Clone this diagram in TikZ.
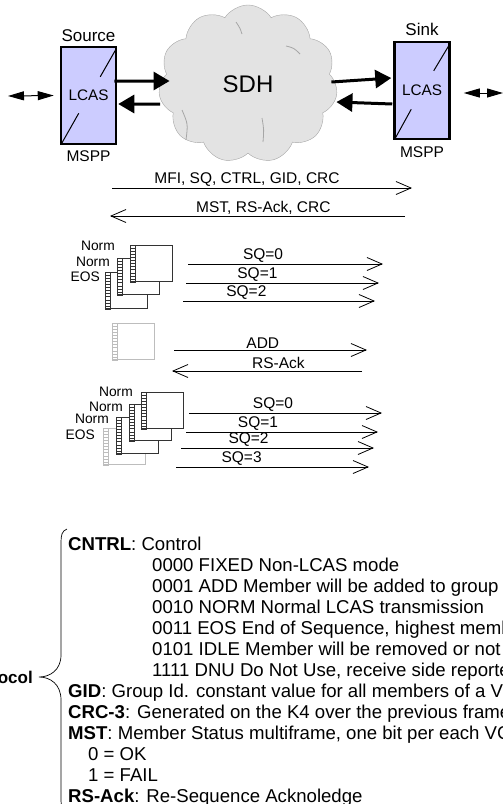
\documentclass[tikz,border=0pt]{standalone}
\usepackage{fontspec}
\setmainfont{Liberation Sans}
\usetikzlibrary{arrows.meta, positioning, shapes.symbols, calc}
\definecolor{lcasblue}{HTML}{CCCCFF}
\definecolor{cloudgray}{HTML}{E3E3E3}
\definecolor{cloudedge}{HTML}{A6A6A6}
\definecolor{newgray}{HTML}{BDBDBD}
\definecolor{stackgray}{HTML}{333333}

% one VC member: frame with its ladder strip
\newcommand{\member}[3]{%
  \node[member, draw=#3, anchor=north west] (#1) at (#2) {};
  \draw[#3] (#1.north west) rectangle ($(#1.south west)+(5.5,0)$);
  \foreach \cell in {1,...,11}
    \draw[#3] ($(#1.north west)!\cell/12!(#1.south west)$) -- ++(5.5,0);
}

\begin{document}
\begin{tikzpicture}[
    x=1pt, y=-1pt,
    lcas/.style={draw, line width=2.5pt, fill=lcasblue, minimum width=55, minimum height=97, inner sep=0, font=\fontsize{15.3}{18}\selectfont},
    bigarrow/.style={line width=3pt, -{Triangle[length=16pt, width=18pt]}},
    extarrow/.style={line width=1pt, {Triangle[length=16pt, width=9pt]}-{Triangle[length=16pt, width=9pt]}},
    msg/.style={line width=0.8pt, -{Straight Barb[length=15pt, width=13pt]}},
    msglbl/.style={above, inner sep=1.5pt, font=\fontsize{15.5}{18}\selectfont},
    member/.style={fill=white, line width=1pt, minimum width=42, minimum height=36, inner sep=0},
    stacklbl/.style={anchor=east, inner sep=0, font=\fontsize{13.8}{15}\selectfont},
    boxlbl/.style={font=\fontsize{17}{20}\selectfont},
]
\useasboundingbox (0,0) rectangle (503,804);

% network
\node[cloud, cloud puffs=11, cloud puff arc=115, aspect=1.15, draw=cloudedge, fill=cloudgray,
      minimum width=179, minimum height=158, inner sep=0, font=\fontsize{24}{28}\selectfont] (sdh) at (248,84) {SDH};
\draw[cloudedge, line width=0.8pt] ($(sdh.center)+(-12,-62)$) .. controls ($(sdh.center)+(-8,-56)$) .. ($(sdh.center)+(-6,-50)$);
\draw[cloudedge, line width=0.8pt] ($(sdh.center)+(38,-38)$) .. controls ($(sdh.center)+(46,-36)$) .. ($(sdh.center)+(52,-30)$);
\draw[cloudedge, line width=0.8pt] ($(sdh.center)+(-66,26)$) .. controls ($(sdh.center)+(-60,40)$) .. ($(sdh.center)+(-62,56)$);
\draw[cloudedge, line width=0.8pt] ($(sdh.center)+(14,34)$) .. controls ($(sdh.center)+(16,46)$) .. ($(sdh.center)+(15,58)$);

% end points
\node[lcas] (src) at (88.5,95.5) {LCAS};
\node[lcas] (snk) at (422,90.5) {LCAS};
\node[boxlbl, above=1pt of src] (srctop) {Source};
\node[boxlbl, above=2pt of snk] (snktop) {Sink};
\node[boxlbl, font=\fontsize{15.5}{18}\selectfont, below=2pt of src] (srcbot) {MSPP};
\node[boxlbl, font=\fontsize{15.5}{18}\selectfont, below=3pt of snk] (snkbot) {MSPP};
\draw[line width=1pt] ($(src.north east)+(-1,3)$) -- ++(-16,28);
\draw[line width=1pt] ($(src.south west)+(2,-2)$) -- ++(17,-30);
\draw[line width=1pt] ($(snk.north east)+(-2,5)$) -- ++(-15,25);
\draw[line width=1pt] ($(snk.south west)+(2,-2)$) -- ++(16,-29);

% links
\draw[bigarrow] ($(src.east)+(-3,-14.5)$) -- ($(sdh.west)+(9.5,-3)$);
\draw[bigarrow] ($(sdh.west)+(0,20)$) -- ($(src.east)+(1,8.5)$);
\draw[bigarrow] ($(sdh.east)+(-4.5,-2)$) -- ($(snk.west)+(-2,-12.5)$);
\draw[bigarrow] ($(snk.west)+(-1,13.5)$) -- ($(sdh.east)+(0.5,18)$);
\coordinate (lext) at (8,96);
\coordinate (rext) at (503,93);
\draw[extarrow] (lext) -- ($(src.west)+(-6,0)$);
\draw[extarrow] ($(snk.east)+(13,2.5)$) -- (rext);

% overhead
\coordinate (m1s) at (112,188); \coordinate (m1e) at (412,188);
\coordinate (m2s) at (405,216); \coordinate (m2e) at (110,216);
\draw[msg] (m1s) -- (m1e) node[msglbl, pos=0.45] {MFI, SQ, CTRL, GID, CRC};
\draw[msg] (m2s) -- (m2e) node[msglbl, pos=0.48] {MST, RS-Ack, CRC};

% group before the add
\member{g1c}{105,272}{stackgray}
\member{g1b}{117,258}{stackgray}
\member{g1a}{130,245}{stackgray}
\node[stacklbl] (g1alb) at ($(g1a.north west)+(-15,1)$) {Norm};
\node[stacklbl] (g1blb) at ($(g1b.north west)+(-7,4)$) {Norm};
\node[stacklbl] (g1clb) at ($(g1c.north west)+(-5,5)$) {EOS};
\coordinate (q0s) at (188,264); \coordinate (q0e) at (383,264);
\coordinate (q1s) at (186,283); \coordinate (q1e) at (379,283);
\coordinate (q2s) at (183,301); \coordinate (q2e) at (375,301);
\draw[msg] (q0s) -- (q0e) node[msglbl, pos=0.385] {SQ=0};
\draw[msg] (q1s) -- (q1e) node[msglbl, pos=0.37] {SQ=1};
\draw[msg] (q2s) -- (q2e) node[msglbl, pos=0.33] {SQ=2};

% new member
\member{addm}{112,323}{newgray}
\coordinate (a1s) at (174,350); \coordinate (a1e) at (367,350);
\coordinate (a2s) at (362,371); \coordinate (a2e) at (172,371);
\draw[msg] (a1s) -- (a1e) node[msglbl, pos=0.46] {ADD};
\draw[msg] (a2s) -- (a2e) node[msglbl, pos=0.44] {RS-Ack};

% group after the add
\member{g2d}{103,428}{newgray}
\member{g2c}{116,417}{stackgray}
\member{g2b}{129,404}{stackgray}
\member{g2a}{141,392}{stackgray}
\node[stacklbl] (g2alb) at ($(g2a.north west)+(-8,0)$) {Norm};
\node[stacklbl] (g2blb) at ($(g2b.north west)+(-6,3)$) {Norm};
\node[stacklbl] (g2clb) at ($(g2c.north west)+(-7,2)$) {Norm};
\node[stacklbl] (g2dlb) at ($(g2d.north west)+(-8,7)$) {EOS};
\coordinate (r0s) at (189,413); \coordinate (r0e) at (382,413);
\coordinate (r1s) at (186,432); \coordinate (r1e) at (378,432);
\coordinate (r2s) at (181,448); \coordinate (r2e) at (374,448);
\coordinate (r3s) at (176,467); \coordinate (r3e) at (369,467);
\draw[msg] (r0s) -- (r0e) node[msglbl, pos=0.435] {SQ=0};
\draw[msg] (r1s) -- (r1e) node[msglbl, pos=0.375] {SQ=1};
\draw[msg] (r2s) -- (r2e) node[msglbl, pos=0.35] {SQ=2};
\draw[msg] (r3s) -- (r3e) node[msglbl, pos=0.34] {SQ=3};

% protocol fields
\draw[line width=0.7pt] (67,529) .. controls (62,531) and (61,535) .. (61,542) -- (61,655)
  .. controls (61,670) and (50,677) .. (39,677) .. controls (50,677) and (61,684) .. (61,700)
  -- (61,800) .. controls (61,806) and (62,810) .. (67,812);
\node[anchor=east, inner sep=0, font=\fontsize{17}{20}\selectfont\bfseries] (proto) at (33,677) {Protocol};
\node[anchor=north west, align=left, inner sep=0, font=\fontsize{18.6}{21}\selectfont] (fields) at (68,537) {%
\textbf{CNTRL}: Control\\
\hspace*{84pt}0000 FIXED Non-LCAS mode\\
\hspace*{84pt}0001 ADD Member will be added to group\\
\hspace*{84pt}0010 NORM Normal LCAS transmission\\
\hspace*{84pt}0011 EOS End of Sequence, highest member\\
\hspace*{84pt}0101 IDLE Member will be removed or not\\
\hspace*{84pt}1111 DNU Do Not Use, receive side reported\\
\textbf{GID}: Group Id. constant value for all members of a VCG\\
\textbf{CRC-3}: Generated on the K4 over the previous frame\\
\textbf{MST}: Member Status multiframe, one bit per each VC\\
\hspace*{20pt}0 = OK\\
\hspace*{20pt}1 = FAIL\\
\textbf{RS-Ack}: Re-Sequence Acknoledge};

\end{tikzpicture}
\end{document}
